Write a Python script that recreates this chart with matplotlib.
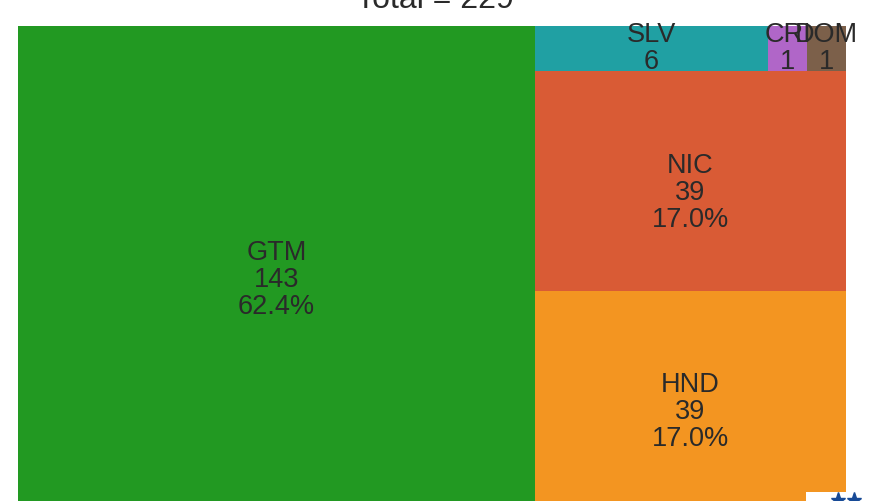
import matplotlib.pyplot as plt
from matplotlib.patches import Rectangle

plt.rcParams['font.family'] = ['Liberation Sans', 'DejaVu Sans']

# Country counts shown in the treemap
labels = ['GTM', 'HND', 'NIC', 'SLV', 'CRI', 'DOM']
counts = [143, 39, 39, 6, 1, 1]
colors = ['#229922', '#f39521', '#d95b35', '#20a0a3', '#b066c8', '#7c604a']
total = sum(counts)

W, H = 828.0, 484.0


def worst(row, length):
    s = sum(row)
    return max(max(length * length * r / (s * s), s * s / (length * length * r)) for r in row)


def layout_row(row, x, y, w, h):
    s = sum(row)
    rects = []
    if w >= h:
        # column on the left side
        cw = s / h
        yy = y
        for r in row:
            rh = r / cw
            rects.append((x, yy, cw, rh))
            yy += rh
        return rects, (x + cw, y, w - cw, h)
    rh = s / w
    xx = x
    for r in row:
        cw = r / rh
        rects.append((xx, y, cw, rh))
        xx += cw
    return rects, (x, y + rh, w, h - rh)


def squarify(vals, x, y, w, h):
    areas = [v * w * h / sum(vals) for v in vals]
    out = []
    rect = (x, y, w, h)
    i = 0
    while i < len(areas):
        row = [areas[i]]
        i += 1
        length = min(rect[2], rect[3])
        while i < len(areas) and worst(row + [areas[i]], length) <= worst(row, length):
            row.append(areas[i])
            i += 1
        rs, rect = layout_row(row, *rect)
        out += rs
    return out


# layout done in a unit square, then stretched to the plot area
rects = [(x * W, y * H, w * W, h * H) for x, y, w, h in squarify(counts, 0, 0, 1, 1)]

fig = plt.figure(figsize=(8.71, 5.01), dpi=100)
ax = fig.add_axes([18 / 871, -9 / 501, 828 / 871, 484 / 501])
ax.set_xlim(0, W)
ax.set_ylim(0, H)
ax.axis('off')

for (x, y, w, h), lab, c, col in zip(rects, labels, counts, colors):
    ax.add_patch(Rectangle((x, y), w, h, facecolor=col, edgecolor='none'))
    if h > 100:
        txt = f'{lab}\n{c}\n{100 * c / total:.1f}%'
        off = -12
    else:
        txt = f'{lab}\n{c}'
        off = 0
    ax.text(x + w / 2, y + h / 2 + off, txt, ha='center', va='center',
            fontsize=19.5, color='#2a2a2a', linespacing=1.05)

fig.text(435 / 871, 1 - 8 / 501, f'Total = {total}', ha='center', va='baseline',
         fontsize=23, color='#2a2a2a')

# corner logo fragment
fig.patches.append(Rectangle((806 / 871, 0), 65 / 871, 9 / 501, transform=fig.transFigure,
                             facecolor='white', edgecolor='none', zorder=5))
fig.lines.append(plt.Line2D([838 / 871, 854 / 871], [1 / 501, 1 / 501], transform=fig.transFigure,
                            linestyle='none', marker='*', markersize=11, color='#174a96', zorder=6))

fig.savefig('out.png', dpi=100)
